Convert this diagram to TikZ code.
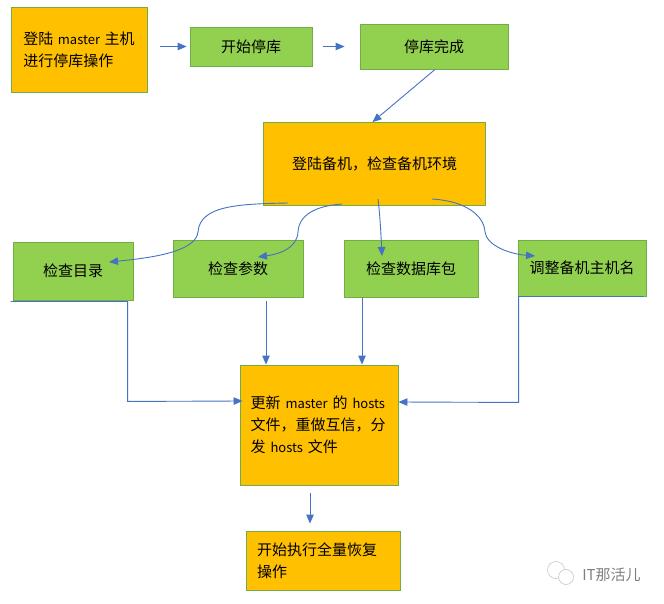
\documentclass[tikz,border=0pt]{standalone}
\usepackage{fontspec}
\setmainfont{Noto Sans CJK SC}
\usetikzlibrary{arrows.meta}

\newcommand{\boxfont}{\fontsize{15}{22}\selectfont\spaceskip 4.5pt\relax}
\newcommand{\latinword}[1]{{\fontsize{13}{22}\selectfont #1}}

\tikzset{
	box/.style={draw=boxline, line width=0.9pt, inner sep=0pt, font=\boxfont},
	mainbox/.style={box, fill=mainfill},
	stepbox/.style={box, fill=stepfill},
	link/.style={draw=linkblue, line width=0.9pt, -{Triangle[length=9pt, width=7.5pt]}},
}
\definecolor{mainfill}{HTML}{FFC000}
\definecolor{stepfill}{HTML}{92D050}
\definecolor{boxline}{HTML}{70AD47}
\definecolor{linkblue}{HTML}{4472C4}

\begin{document}
\begin{tikzpicture}[x=1pt, y=-1pt]
	\useasboundingbox (0, 0) rectangle (664, 604);

	\node[mainbox, minimum width=136pt, minimum height=85pt, align=left] (login) at (79, 49.5) {登陆 \latinword{master} 主机\\进行停库操作};
	\node[stepbox, minimum width=122pt, minimum height=39pt] (start) at (251, 46.5) {开始停库};
	\node[stepbox, minimum width=148pt, minimum height=45pt] (done) at (434, 46.5) {停库完成};
	\node[mainbox, minimum width=222pt, minimum height=83pt] (backup) at (374.5, 164) {登陆备机，检查备机环境};

	\node[stepbox, minimum width=120pt, minimum height=58pt] (dir) at (73, 271) {检查目录};
	\node[stepbox, minimum width=130pt, minimum height=57pt] (param) at (238, 268.5) {检查参数};
	\node[stepbox, minimum width=134pt, minimum height=57pt] (pkg) at (411, 268.5) {检查数据库包};
	\node[stepbox, minimum width=128pt, minimum height=56pt] (host) at (582, 268) {调整备机主机名};

	\node[mainbox, minimum width=158pt, minimum height=120pt, text width=137pt, align=left] (update) at (319, 425) {更新 \latinword{master} 的 \latinword{hosts}\\文件，重做互信，分\\发 \latinword{hosts} 文件};
	\node[mainbox, minimum width=154pt, minimum height=59pt, text width=132pt, align=left] (final) at (323, 560.5) {开始执行全量恢复\\操作};

	\coordinate (dirfrom) at (288, 203);
	\coordinate (dirto) at (109, 262);
	\coordinate (paramfrom) at (342, 204);
	\coordinate (paramto) at (258, 257);
	\coordinate (pkgfrom) at (378, 199);
	\coordinate (pkgto) at (382, 256);
	\coordinate (hostfrom) at (432, 199);
	\coordinate (hostto) at (535, 256);

	\draw[link, shorten <=13pt, shorten >=3pt] (login.east |- start) -- (start);
	\draw[link, shorten <=11pt, shorten >=15pt] (start) -- (done);
	\draw[link] ([xshift=1pt]done.south) -- ([xshift=-2pt]backup.north);

	\draw[link] (dirfrom) .. controls (240, 204) and (200, 205) .. (198, 232) .. controls (196, 252) and (150, 258) .. (dirto);
	\draw[link] (paramfrom) .. controls (315, 206) and (299, 215) .. (298, 232) .. controls (297, 248) and (280, 254) .. (paramto);
	\draw[link] (pkgfrom) .. controls (380, 215) and (381, 235) .. (pkgto);
	\draw[link] (hostfrom) .. controls (465, 201) and (484, 215) .. (485, 232) .. controls (487, 246) and (510, 254) .. (hostto);

	\draw[link] ([xshift=-2pt, yshift=-1pt]dir.south west) -- ++(117, 0) -- ++(0, 100) -- ([xshift=3pt, yshift=24pt]update.west);
	\draw[link] ([xshift=28pt, yshift=-4pt]param.south) -- ([xshift=-53pt]update.north);
	\draw[link] ([xshift=-49pt, yshift=-1pt]pkg.south) -- ([xshift=43pt]update.north);
	\draw[link] ([xshift=-3pt]host.south east) -- ([xshift=1pt]host.south west) -- ++(0, 106) -- ([yshift=23pt]update.east);
	\draw[link] ([xshift=-9pt, yshift=-8pt]update.south) -- ([xshift=-13pt, yshift=7pt]final.north);

	\draw[gray!45, line width=0.6pt] (556, 570) circle (8.5pt);
	\draw[gray!45, line width=0.6pt, fill=white] (566, 577) circle (7.5pt);
	\node[text=gray, font=\fontsize{15}{17}\selectfont, inner sep=0pt] (mark) at (611.5, 575) {IT那活儿};
\end{tikzpicture}
\end{document}
